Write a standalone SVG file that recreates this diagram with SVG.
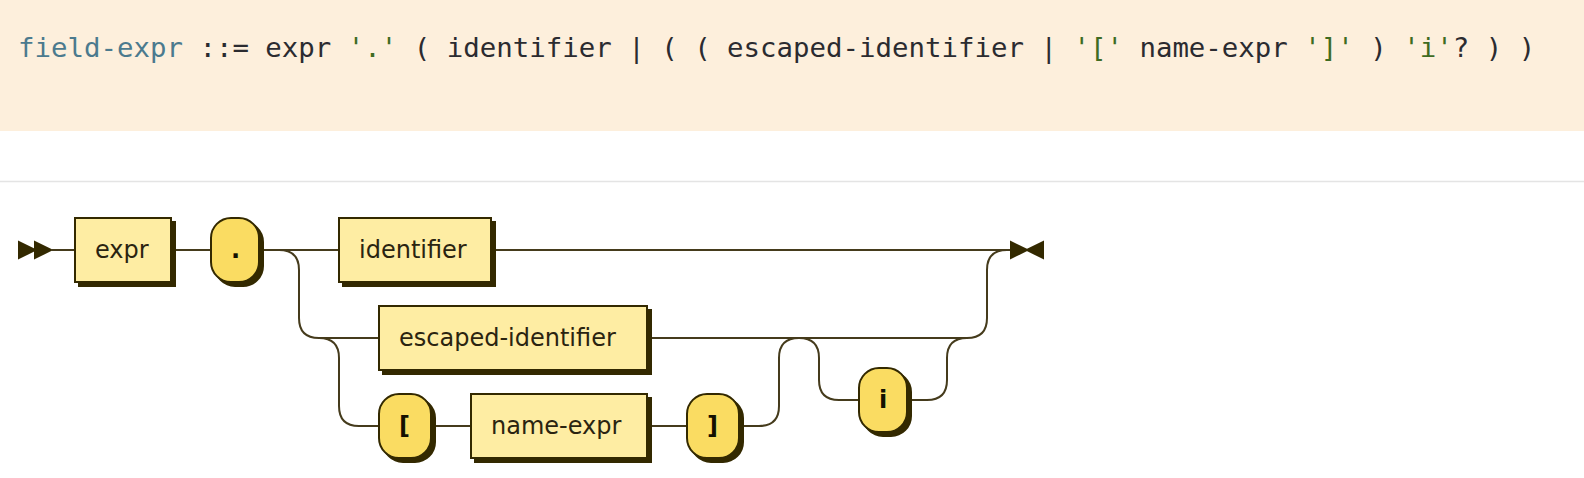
<svg xmlns="http://www.w3.org/2000/svg" width="1584" height="478" viewBox="0 0 1584 478">
<style>
.hdr { font-family: "DejaVu Sans Mono", "Liberation Mono", monospace; font-size: 27.4px; }
.kw { fill: #4b7a8e; }
.op { fill: #2b2b30; }
.str { fill: #3f6b22; }
.line { fill: none; stroke: #453b1c; stroke-width: 1; }
.arrow { fill: #332900; stroke: #332900; stroke-width: 1; }
.shadow { fill: #332900; stroke: #332900; stroke-width: 1; }
.nt { fill: #FEEDA3; stroke: #332900; stroke-width: 1; }
.t { fill: #FADC62; stroke: #332900; stroke-width: 1; }
.ntx { font-family: "DejaVu Sans", Verdana, sans-serif; font-size: 12px; fill: #2a2410; }
.tx { font-family: "DejaVu Sans", Verdana, sans-serif; font-size: 12px; fill: #141000; font-weight: bold; }
</style>
<rect x="0" y="0" width="1584" height="131" fill="#FDEFDC"/>
<text class="hdr" x="18" y="57" xml:space="preserve"><tspan class="kw">field-expr</tspan><tspan class="op"> ::= expr </tspan><tspan class="str">'.'</tspan><tspan class="op"> ( identifier | ( ( escaped-identifier | </tspan><tspan class="str">'['</tspan><tspan class="op"> name-expr </tspan><tspan class="str">']'</tspan><tspan class="op"> ) </tspan><tspan class="str">'i'</tspan><tspan class="op">? ) )</tspan></text>
<line x1="0" y1="181.5" x2="1584" y2="181.5" stroke="#e4e4e4" stroke-width="1.5"/>
<g transform="translate(17 216) scale(2)">
  <g id="connectors">
    <polygon class="arrow" points="9 17 1 13 1 21"/>
    <polygon class="arrow" points="17 17 9 13 9 21"/>
    <path class="line" d="M17 17 H29 M77 17 H97 M121 17 H161 M237 17 H497"/>
    <path class="line" d="M131 17 Q141 17 141 27 V51 Q141 61 151 61 H181"/>
    <path class="line" d="M151 61 Q161 61 161 71 V95 Q161 105 171 105 H181"/>
    <path class="line" d="M207 105 H227 M315 105 H335"/>
    <path class="line" d="M361 105 H371 Q381 105 381 95 V71 Q381 61 391 61"/>
    <path class="line" d="M315 61 H475 Q485 61 485 51 V27 Q485 17 495 17"/>
    <path class="line" d="M391 61 Q401 61 401 71 V82 Q401 92 411 92 H421"/>
    <path class="line" d="M445 92 H455 Q465 92 465 82 V71 Q465 61 475 61"/>
    <polygon class="arrow" points="505 17 497 13 497 21"/>
    <polygon class="arrow" points="505 17 513 13 513 21"/>
  </g>
  <g id="node-expr">
    <rect class="shadow" x="31" y="3" width="48" height="32"/>
    <rect class="nt" x="29" y="1" width="48" height="32"/>
    <text class="ntx" x="39" y="21">expr</text>
  </g>
  <g id="node-dot">
    <rect class="shadow" x="99" y="3" width="24" height="32" rx="10"/>
    <rect class="t" x="97" y="1" width="24" height="32" rx="10"/>
    <text class="tx" x="107" y="21">.</text>
  </g>
  <g id="node-identifier">
    <rect class="shadow" x="163" y="3" width="76" height="32"/>
    <rect class="nt" x="161" y="1" width="76" height="32"/>
    <text class="ntx" x="171" y="21">identifier</text>
  </g>
  <g id="node-escaped-identifier">
    <rect class="shadow" x="183" y="47" width="134" height="32"/>
    <rect class="nt" x="181" y="45" width="134" height="32"/>
    <text class="ntx" x="191" y="65">escaped-identifier</text>
  </g>
  <g id="node-lbracket">
    <rect class="shadow" x="183" y="91" width="26" height="32" rx="10"/>
    <rect class="t" x="181" y="89" width="26" height="32" rx="10"/>
    <text class="tx" x="191" y="109">[</text>
  </g>
  <g id="node-name-expr">
    <rect class="shadow" x="229" y="91" width="88" height="32"/>
    <rect class="nt" x="227" y="89" width="88" height="32"/>
    <text class="ntx" x="237" y="109">name-expr</text>
  </g>
  <g id="node-rbracket">
    <rect class="shadow" x="337" y="91" width="26" height="32" rx="10"/>
    <rect class="t" x="335" y="89" width="26" height="32" rx="10"/>
    <text class="tx" x="345" y="109">]</text>
  </g>
  <g id="node-i">
    <rect class="shadow" x="423" y="78" width="24" height="32" rx="10"/>
    <rect class="t" x="421" y="76" width="24" height="32" rx="10"/>
    <text class="tx" x="431" y="96">i</text>
  </g>
</g>
</svg>
